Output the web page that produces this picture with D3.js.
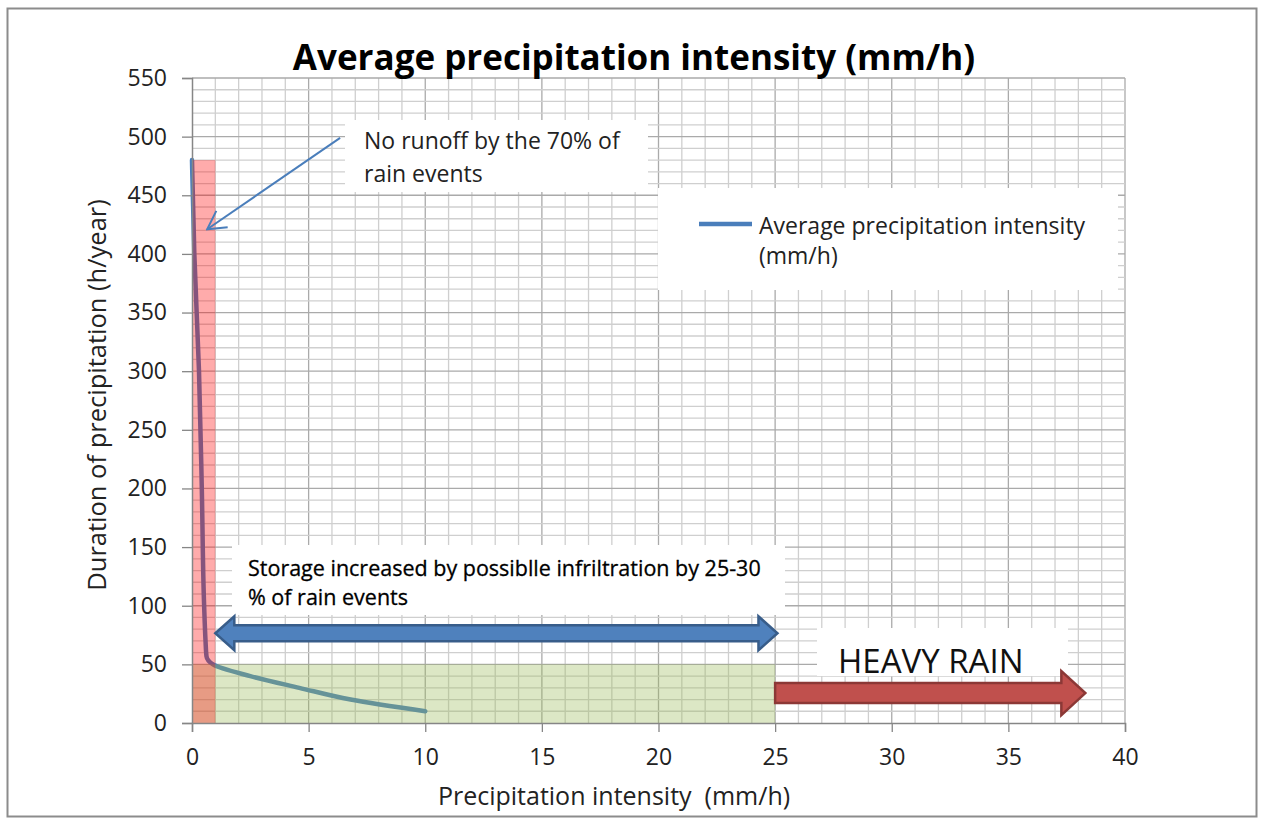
<!DOCTYPE html>
<head>
  <meta charset="UTF-8">
  <style>
    *{ margin: 0px; }
    body{ background-color: white; }
    svg{ position: absolute; font-family: "Open Sans", "DejaVu Sans", sans-serif; }
    text{ white-space: pre; }
  </style>
  <script src="https://d3js.org/d3.v7.min.js"></script>
</head>
<body>
  <svg id="chart" width="1262" height="823"></svg>
  <script>
    // series: duration (h/year) against average intensity (mm/h)
    var intensities = [0, 0.1, 0.3, 0.42, 0.52, 0.58, 0.62, 0.9, 2.5, 4.6, 6.8, 10];
    var durations = [480, 400, 300, 200, 100, 70, 57, 50, 40, 30, 20, 10];

    var xTicks = [0, 5, 10, 15, 20, 25, 30, 35, 40];
    var yTicks = [0, 50, 100, 150, 200, 250, 300, 350, 400, 450, 500, 550];

    // shaded zones [x0, x1, y0, y1]
    var noRunoffZone = [0, 1, 0, 480];
    var storageZone = [0, 25, 0, 50];

    var svg = d3.select("#chart");
    var plotLeft = 192, plotTop = 78, plotWidth = 933, plotHeight = 645;

    var x = d3.scaleLinear().domain([0, 40]).range([plotLeft, plotLeft + plotWidth]);
    var y = d3.scaleLinear().domain([0, 550]).range([plotTop + plotHeight, plotTop]);

    // outer frame
    svg.append("rect")
      .attr("x", 7.5).attr("y", 8.5)
      .attr("width", 1249).attr("height", 808)
      .attr("fill", "white")
      .attr("stroke", "#8c8c8c")
      .attr("stroke-width", 2);

    // grid, every 1 mm/h and every 10 h
    var grid = svg.append("g");
    grid.selectAll(".vx")
      .data(d3.range(1, 41))
      .enter().append("line")
      .attr("x1", d => x(d)).attr("x2", d => x(d))
      .attr("y1", y(0)).attr("y2", y(550))
      .attr("stroke", d => d % 5 === 0 ? "#aaaaaa" : "#cfcfcf")
      .attr("stroke-width", 1.3);
    grid.selectAll(".hy")
      .data(d3.range(10, 551, 10))
      .enter().append("line")
      .attr("x1", x(0)).attr("x2", x(40))
      .attr("y1", d => y(d)).attr("y2", d => y(d))
      .attr("stroke", d => d % 50 === 0 ? "#aaaaaa" : "#cfcfcf")
      .attr("stroke-width", 1.3);

    // series line
    var line = d3.line()
      .x((d, i) => x(intensities[i]))
      .y(d => y(d))
      .curve(d3.curveMonotoneY);
    svg.append("path")
      .datum(durations)
      .attr("d", line)
      .attr("fill", "none")
      .attr("stroke", "#4a7ebb")
      .attr("stroke-width", 4.5)
      .attr("stroke-linejoin", "round")
      .attr("stroke-linecap", "round");

    // translucent zones on top of the line
    svg.append("rect")
      .attr("x", x(storageZone[0])).attr("y", y(storageZone[3]))
      .attr("width", x(storageZone[1]) - x(storageZone[0]))
      .attr("height", y(storageZone[2]) - y(storageZone[3]))
      .attr("fill", "#9bbb59").attr("fill-opacity", 0.35);
    svg.append("rect")
      .attr("x", x(noRunoffZone[0])).attr("y", y(noRunoffZone[3]))
      .attr("width", x(noRunoffZone[1]) - x(noRunoffZone[0]))
      .attr("height", y(noRunoffZone[2]) - y(noRunoffZone[3]))
      .attr("fill", "#ff0000").attr("fill-opacity", 0.33);

    // axes
    var xAxis = svg.append("g")
      .attr("transform", "translate(0," + y(0) + ")")
      .call(d3.axisBottom(x).tickValues(xTicks).tickSize(9).tickPadding(17));
    var yAxis = svg.append("g")
      .attr("transform", "translate(" + x(0) + ",0)")
      .call(d3.axisLeft(y).tickValues(yTicks).tickSize(10).tickPadding(15));
    [xAxis, yAxis].forEach(function(a){
      a.select(".domain").attr("stroke", "#868686").attr("stroke-width", 1.5);
      a.selectAll(".tick line").attr("stroke", "#868686").attr("stroke-width", 1.3);
      a.selectAll(".tick text")
        .attr("fill", "#222")
        .style("font-family", "Open Sans")
        .style("font-size", "23px");
    });

    // titles
    svg.append("text")
      .attr("x", 634).attr("y", 70)
      .attr("text-anchor", "middle")
      .style("font-size", "35px").style("font-weight", "bold")
      .text("Average precipitation intensity (mm/h)");
    svg.append("text")
      .attr("x", 614).attr("y", 805)
      .attr("text-anchor", "middle")
      .style("font-size", "25px").attr("fill", "#222")
      .text("Precipitation intensity  (mm/h)");
    svg.append("text")
      .attr("transform", "translate(106,395) rotate(-90)")
      .attr("text-anchor", "middle")
      .style("font-size", "25.5px").attr("fill", "#222")
      .text("Duration of precipitation (h/year)");

    // legend
    svg.append("rect")
      .attr("x", 658).attr("y", 188).attr("width", 460).attr("height", 102)
      .attr("fill", "white");
    svg.append("line")
      .attr("x1", 699).attr("x2", 752).attr("y1", 224).attr("y2", 224)
      .attr("stroke", "#4a7ebb").attr("stroke-width", 4.5);
    var leg = svg.append("text").attr("x", 759).attr("y", 234)
      .style("font-size", "23px").attr("fill", "#222");
    leg.append("tspan").text("Average precipitation intensity");
    leg.append("tspan").attr("x", 759).attr("dy", 30).text("(mm/h)");

    // annotation: no runoff
    svg.append("rect")
      .attr("x", 345).attr("y", 120).attr("width", 303).attr("height", 72)
      .attr("fill", "white");
    var note1 = svg.append("text").attr("x", 364).attr("y", 149)
      .style("font-size", "23px").attr("fill", "#222");
    note1.append("tspan").text("No runoff by the 70% of");
    note1.append("tspan").attr("x", 364).attr("dy", 33).text("rain events");

    svg.append("defs").append("marker")
      .attr("id", "head")
      .attr("viewBox", "0 0 24 24")
      .attr("refX", 22).attr("refY", 12)
      .attr("markerWidth", 24).attr("markerHeight", 24)
      .attr("markerUnits", "userSpaceOnUse")
      .attr("orient", "auto")
      .append("path")
      .attr("d", "M4,2 L22,12 L4,22")
      .attr("fill", "none").attr("stroke", "#4a7ebb").attr("stroke-width", 2);
    svg.append("line")
      .attr("x1", x(6.35)).attr("y1", y(499))
      .attr("x2", x(0.65)).attr("y2", y(421))
      .attr("stroke", "#4a7ebb").attr("stroke-width", 2)
      .attr("marker-end", "url(#head)");

    // annotation: storage
    svg.append("rect")
      .attr("x", 232).attr("y", 545).attr("width", 553).attr("height", 70)
      .attr("fill", "white");
    var note2 = svg.append("text").attr("x", 248).attr("y", 576)
      .style("font-size", "21.5px").attr("fill", "#000")
      .attr("stroke", "#000").attr("stroke-width", 0.3);
    note2.append("tspan").text("Storage increased by possiblle infriltration by 25-30");
    note2.append("tspan").attr("x", 248).attr("dy", 29).text("% of rain events");

    function arrowPath(x0, x1, yc, body, head, headLen, both){
      var p = [];
      if(both){
        p.push([x0, yc], [x0 + headLen, yc - head], [x0 + headLen, yc - body]);
      } else {
        p.push([x0, yc - body]);
      }
      p.push([x1 - headLen, yc - body], [x1 - headLen, yc - head], [x1, yc],
        [x1 - headLen, yc + head], [x1 - headLen, yc + body]);
      if(both){
        p.push([x0 + headLen, yc + body], [x0 + headLen, yc + head]);
      } else {
        p.push([x0, yc + body]);
      }
      return "M" + p.join("L") + "Z";
    }
    // double arrow (1 .. 25 mm/h)
    svg.append("path")
      .attr("d", arrowPath(x(1.0), x(25.1), y(76.5), 8, 17, 19, true))
      .attr("fill", "#4f81bd").attr("stroke", "#385d8a").attr("stroke-width", 2.5);

    // heavy rain
    svg.append("rect")
      .attr("x", 817).attr("y", 628).attr("width", 251).attr("height", 48)
      .attr("fill", "white");
    svg.append("text")
      .attr("x", 838).attr("y", 673)
      .style("font-size", "33px").attr("fill", "#111")
      .text("HEAVY RAIN");
    svg.append("path")
      .attr("d", arrowPath(x(25), x(38.3), y(25.5), 10, 22, 24, false))
      .attr("fill", "#c0504d").attr("stroke", "#8c3836").attr("stroke-width", 2.5);
  </script>
</body>
